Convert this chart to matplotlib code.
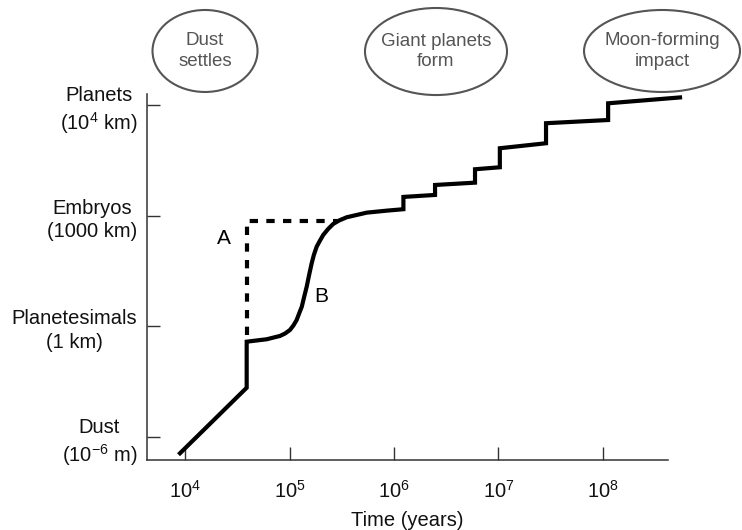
import matplotlib
matplotlib.use("Agg")
import matplotlib.pyplot as plt
from matplotlib.patches import Ellipse

plt.rcParams["font.family"] = ["Liberation Sans", "DejaVu Sans"]
plt.rcParams["mathtext.fontset"] = "custom"
plt.rcParams["mathtext.rm"] = "Liberation Sans"
plt.rcParams["mathtext.it"] = "Liberation Sans"

# growth path (time in years, size stage: 0 dust .. 3 planets)
growth_time = [8.95e3, 3.89e4, 3.89e4, 6.05e4, 8.11e4, 9.06e4, 1.01e5, 1.09e5,
               1.17e5, 1.23e5, 1.31e5, 1.38e5, 1.46e5, 1.54e5, 1.63e5, 1.71e5,
               1.82e5, 1.96e5, 2.10e5, 2.34e5, 2.62e5, 2.98e5, 3.52e5, 5.48e5,
               8.51e5, 1.23e6, 1.23e6, 2.47e6, 2.47e6, 5.96e6, 5.96e6, 1.03e7,
               1.03e7, 2.85e7, 2.85e7, 1.12e8, 1.12e8, 5.46e8]
growth_size = [-0.147, 0.445, 0.861, 0.883, 0.913, 0.935, 0.967, 1.008,
               1.057, 1.111, 1.177, 1.265, 1.358, 1.464, 1.570, 1.645,
               1.720, 1.776, 1.825, 1.879, 1.925, 1.956, 1.985, 2.027,
               2.045, 2.058, 2.169, 2.187, 2.277, 2.298, 2.419, 2.437,
               2.609, 2.654, 2.835, 2.864, 3.015, 3.068]

# path A (dashed): straight up, then across
path_a_time = [3.89e4, 3.89e4, 2.85e5]
path_a_size = [0.92, 1.954, 1.954]

stage_ticks = [0, 1, 2, 3]
stage_labels = ["Dust\n(10$^{-6}$ m)", "Planetesimals\n(1 km)",
                "Embryos\n(1000 km)", "Planets\n(10$^4$ km)"]
year_ticks = [1e4, 1e5, 1e6, 1e7, 1e8]
year_labels = ["10$^4$", "10$^5$", "10$^6$", "10$^7$", "10$^8$"]

events = ["Dust\nsettles", "Giant planets\nform", "Moon-forming\nimpact"]
# (x, y, w, h) in figure fraction
event_boxes = [(0.2763, 0.9038, 0.1415, 0.1547),
               (0.5876, 0.9028, 0.1914, 0.1642),
               (0.8922, 0.9038, 0.2102, 0.1547)]

fig = plt.figure(figsize=(7.42, 5.30), dpi=100)
ax = fig.add_axes([147 / 742, 70 / 530, 521 / 742, 366 / 530])

ax.plot(growth_time, growth_size, color="black", lw=3.0,
        solid_joinstyle="miter", clip_on=False)
ax.plot(path_a_time, path_a_size, color="black", lw=3.0,
        linestyle=(0, (2, 2)), dash_capstyle="butt", clip_on=False)

ax.text(2.33e4, 1.795, "A", fontsize=15, ha="center", va="center")
ax.text(2.03e5, 1.268, "B", fontsize=15, ha="center", va="center")

ax.set_xscale("log")
ax.set_xlim(4325, 4.19e8)
ax.set_ylim(-0.208, 3.099)
ax.minorticks_off()
ax.set_xticks(year_ticks)
ax.set_xticklabels(year_labels)
ax.set_yticks(stage_ticks)
ax.set_yticklabels(stage_labels)
for lab in ax.get_yticklabels():
    lab.set_multialignment("center")
    lab.set_linespacing(1.3)

for side in ["top", "right"]:
    ax.spines[side].set_visible(False)
for side in ["left", "bottom"]:
    ax.spines[side].set_color("#333333")
    ax.spines[side].set_linewidth(1.1)

ax.tick_params(axis="both", direction="in", length=9.5, width=1.0,
               color="#333333", labelsize=14.5, labelcolor="#111111")
ax.tick_params(axis="x", pad=14)
ax.tick_params(axis="y", pad=7)
ax.set_xlabel("Time (years)", fontsize=14.5, color="#111111", labelpad=7)

for (cx, cy, w, h), name in zip(event_boxes, events):
    fig.add_artist(Ellipse((cx, cy), w, h, transform=fig.transFigure,
                           facecolor="none", edgecolor="#555555", lw=1.5))
    fig.text(cx, cy, name, fontsize=13.5, color="#555555", ha="center",
             va="center", multialignment="center", linespacing=1.3)

fig.savefig("out.png", dpi=100)
